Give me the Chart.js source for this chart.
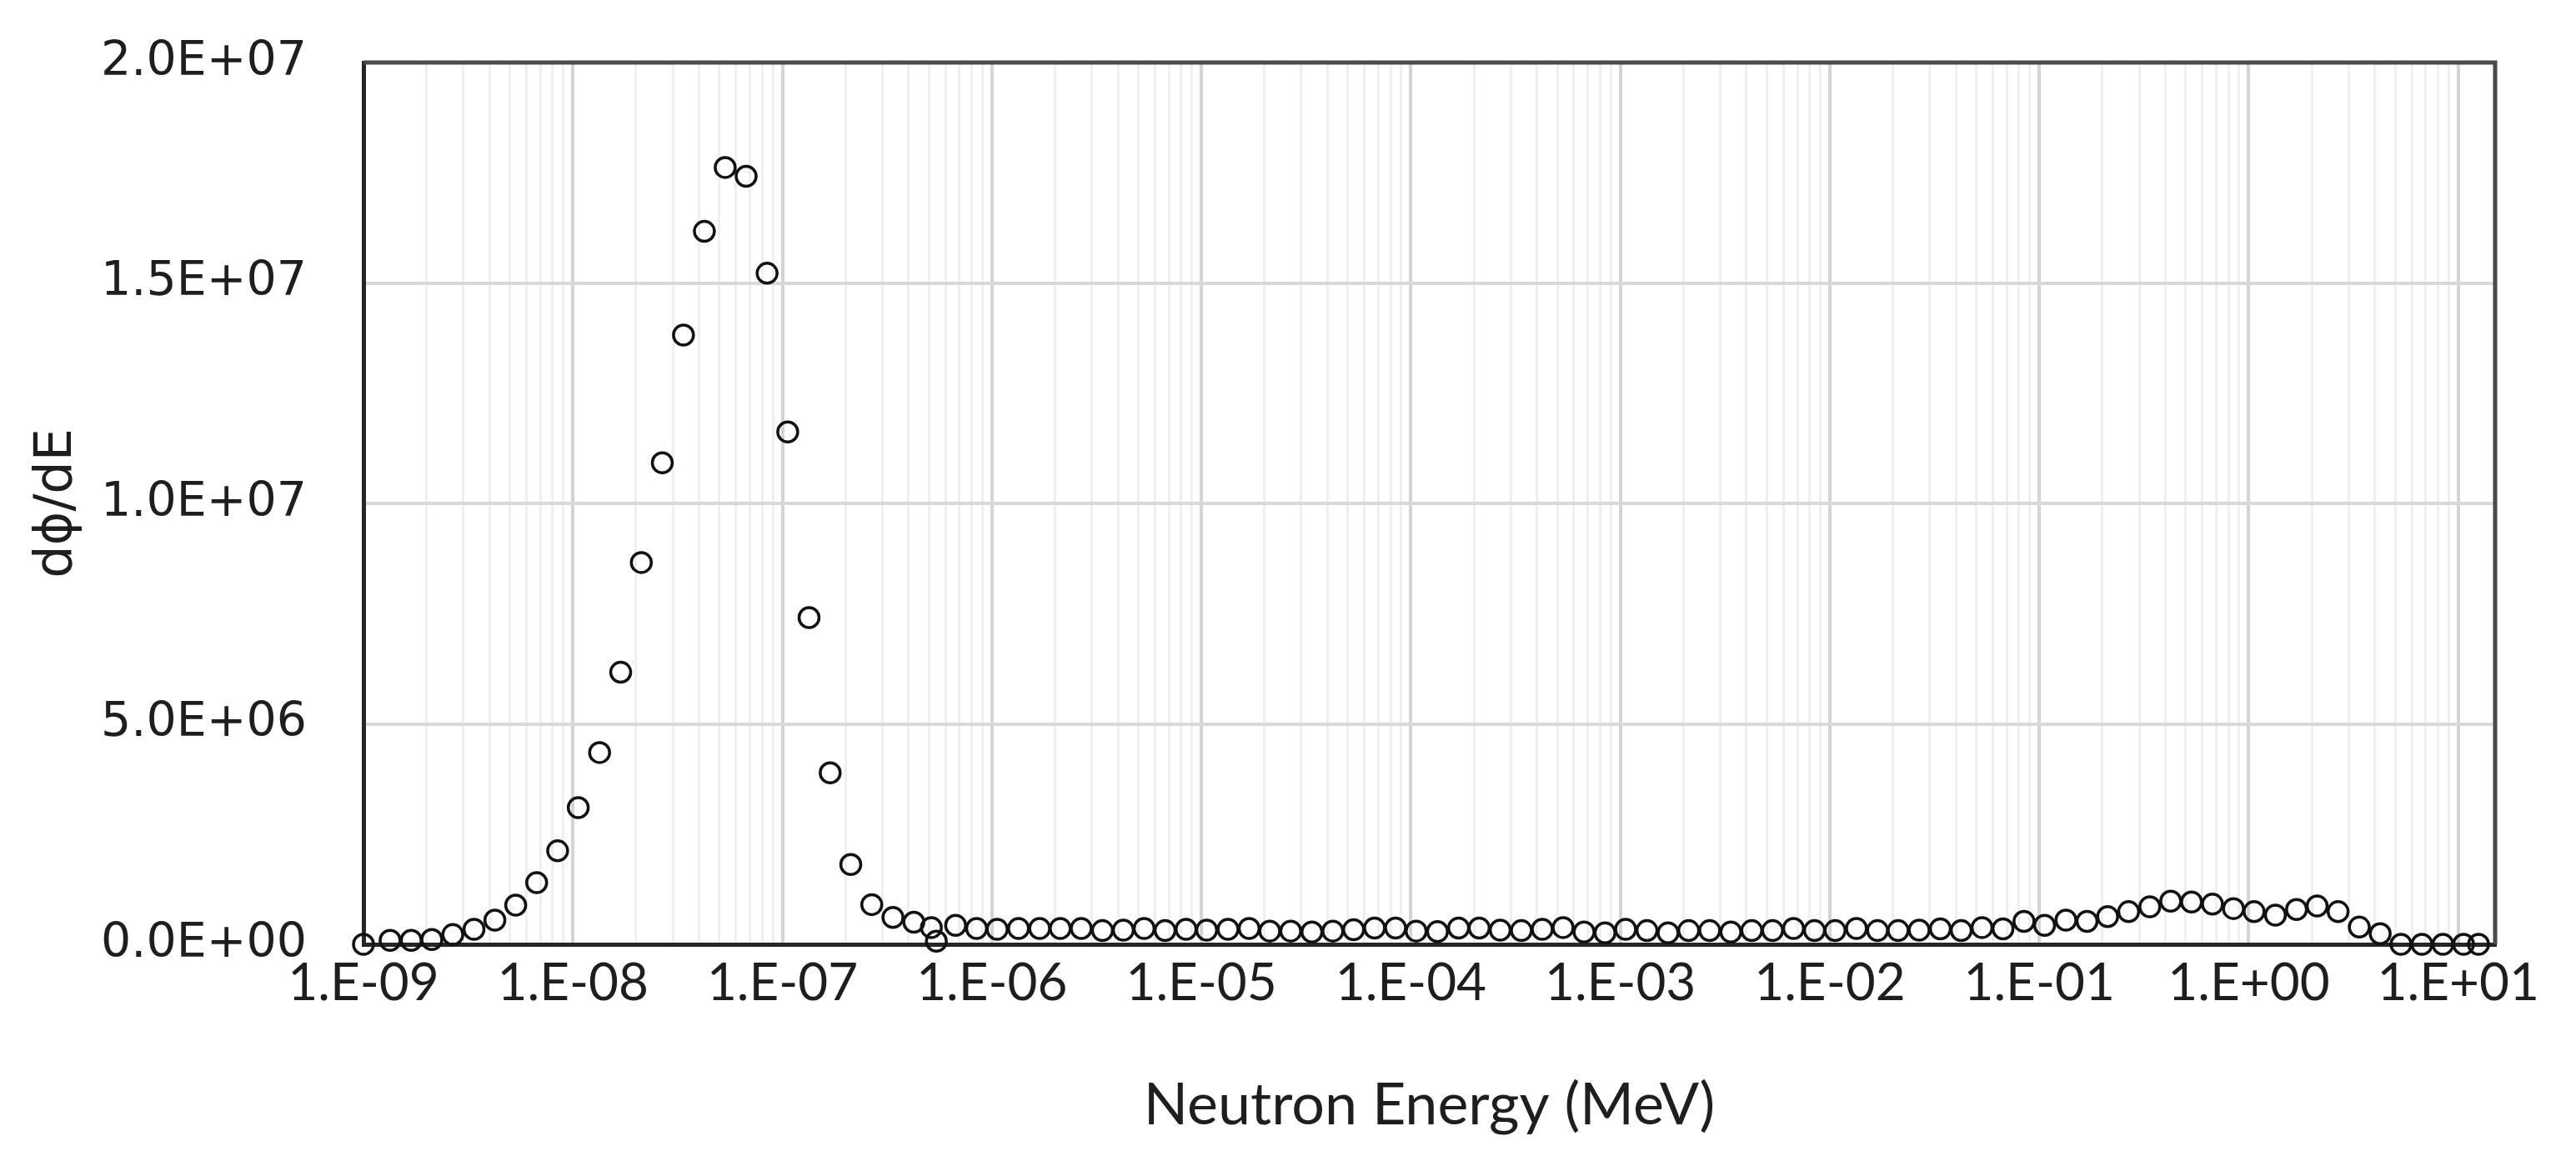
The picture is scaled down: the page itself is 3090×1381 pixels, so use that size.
<!DOCTYPE html>
<html>
<head>
<meta charset="utf-8">
<title>Neutron spectrum</title>
<script src="https://cdn.jsdelivr.net/npm/chart.js@4.4.1/dist/chart.umd.min.js"></script>
<style>
  html, body { margin: 0; padding: 0; background: #ffffff; }
  #spectrum { display: block; }
</style>
</head>
<body>
<canvas id="spectrum" width="3090" height="1381"></canvas>
<script>
// neutron energy of each point, MeV
const energies = [
  1.00e-9,
  1.34e-9, 1.69e-9, 2.12e-9, 2.67e-9, 3.37e-9, 4.24e-9, 5.33e-9, 6.71e-9, 8.45e-9,
  1.06e-8, 1.34e-8, 1.69e-8, 2.12e-8, 2.67e-8, 3.37e-8, 4.24e-8, 5.33e-8, 6.71e-8, 8.45e-8,
  1.06e-7, 1.34e-7, 1.69e-7, 2.12e-7, 2.67e-7, 3.37e-7, 4.24e-7, 5.14e-7, 5.43e-7, 6.71e-7, 8.45e-7,
  1.06e-6, 1.34e-6, 1.69e-6, 2.12e-6, 2.67e-6, 3.37e-6, 4.24e-6, 5.33e-6, 6.71e-6, 8.45e-6,
  1.06e-5, 1.34e-5, 1.69e-5, 2.12e-5, 2.67e-5, 3.37e-5, 4.24e-5, 5.33e-5, 6.71e-5, 8.45e-5,
  1.06e-4, 1.34e-4, 1.69e-4, 2.12e-4, 2.67e-4, 3.37e-4, 4.24e-4, 5.33e-4, 6.71e-4, 8.45e-4,
  1.06e-3, 1.34e-3, 1.69e-3, 2.12e-3, 2.67e-3, 3.37e-3, 4.24e-3, 5.33e-3, 6.71e-3, 8.45e-3,
  1.06e-2, 1.34e-2, 1.69e-2, 2.12e-2, 2.67e-2, 3.37e-2, 4.24e-2, 5.33e-2, 6.71e-2, 8.45e-2,
  1.06e-1, 1.34e-1, 1.69e-1, 2.12e-1, 2.67e-1, 3.37e-1, 4.24e-1, 5.33e-1, 6.71e-1, 8.45e-1,
  1.06, 1.34, 1.69, 2.12, 2.67, 3.37, 4.24, 5.33, 6.71, 8.45,
  10.6, 12.5
];

// dphi/dE in units of 1E+06
const fluxMillions = [
  0.00,
  0.09, 0.09, 0.11, 0.22, 0.34, 0.55, 0.89, 1.40, 2.12,
  3.10, 4.35, 6.17, 8.66, 10.92, 13.82, 16.17, 17.62, 17.42, 15.22,
  11.62, 7.41, 3.89, 1.81, 0.90, 0.61, 0.50, 0.38, 0.07, 0.43, 0.36,
  0.34, 0.36, 0.36, 0.36, 0.36, 0.31, 0.32, 0.36, 0.31, 0.34,
  0.32, 0.34, 0.36, 0.30, 0.30, 0.28, 0.30, 0.33, 0.37, 0.37,
  0.30, 0.29, 0.37, 0.37, 0.32, 0.31, 0.34, 0.38, 0.28, 0.26,
  0.34, 0.31, 0.26, 0.31, 0.31, 0.28, 0.31, 0.31, 0.36, 0.31,
  0.31, 0.36, 0.31, 0.31, 0.32, 0.35, 0.31, 0.38, 0.35, 0.52,
  0.43, 0.55, 0.52, 0.63, 0.74, 0.85, 0.98, 0.96, 0.91, 0.81,
  0.74, 0.66, 0.79, 0.87, 0.74, 0.39, 0.24, 0.00, 0.00, 0.00,
  0.00, 0.00
];

const decadeTicks = [1e-9, 1e-8, 1e-7, 1e-6, 1e-5, 1e-4, 1e-3, 1e-2, 1e-1, 1e0, 1e1];
const xTickLabels = ['1.E-09', '1.E-08', '1.E-07', '1.E-06', '1.E-05', '1.E-04',
                     '1.E-03', '1.E-02', '1.E-01', '1.E+00', '1.E+01'];
const minorSteps = [2, 3, 4, 5, 6, 7, 8, 9];
const xMin = 1e-9;
const xMax = 15;

const yTickValues = [0, 5e6, 1e7, 1.5e7, 2e7];
const yTickLabels = ['0.0E+00', '5.0E+06', '1.0E+07', '1.5E+07', '2.0E+07'];

const points = energies.map((e, i) => ({ x: e, y: fluxMillions[i] * 1e6 }));

// grid lines at every decade plus 2..9 in between
const gridValues = [];
decadeTicks.forEach(d => {
  gridValues.push(d);
  minorSteps.forEach(m => {
    if (d * m < xMax) gridValues.push(d * m);
  });
});

function decadeIndex(v) {
  return decadeTicks.findIndex(d => Math.abs(Math.log10(d) - Math.log10(v)) < 1e-6);
}

const textColor = '#1e1e1e';

// top and right edge of the plot box
const frame = {
  id: 'frame',
  beforeDatasetsDraw(chart) {
    const { ctx, chartArea: a } = chart;
    ctx.save();
    ctx.strokeStyle = '#4a4a4a';
    ctx.lineWidth = 5;
    ctx.beginPath();
    ctx.moveTo(a.left, a.top);
    ctx.lineTo(a.right, a.top);
    ctx.lineTo(a.right, a.bottom);
    ctx.stroke();
    ctx.restore();
  }
};

new Chart(document.getElementById('spectrum'), {
  type: 'scatter',
  data: {
    datasets: [{
      label: 'dϕ/dE',
      data: points,
      pointStyle: 'circle',
      pointRadius: 12,
      pointBorderWidth: 3.5,
      pointBorderColor: '#111111',
      pointBackgroundColor: 'rgba(0,0,0,0)',
      showLine: false,
      clip: false
    }]
  },
  options: {
    responsive: false,
    devicePixelRatio: 1,
    animation: false,
    layout: {
      padding: { top: 75, right: 97, bottom: 0, left: 0 }
    },
    plugins: {
      legend: { display: false },
      tooltip: { enabled: false }
    },
    scales: {
      x: {
        type: 'logarithmic',
        min: xMin,
        max: xMax,
        afterBuildTicks: scale => {
          scale.ticks = gridValues.map(v => ({ value: v }));
        },
        afterFit: scale => { scale.height = 248; },
        ticks: {
          autoSkip: false,
          maxRotation: 0,
          minRotation: 0,
          padding: 10,
          color: textColor,
          font: { family: 'Lato', size: 62 },
          callback: value => {
            const i = decadeIndex(value);
            return i >= 0 ? xTickLabels[i] : '';
          }
        },
        grid: {
          drawTicks: false,
          color: ctx => (ctx.tick && decadeIndex(ctx.tick.value) >= 0) ? '#d4d4d4' : '#efefef',
          lineWidth: ctx => (ctx.tick && decadeIndex(ctx.tick.value) >= 0) ? 4 : 3
        },
        border: { display: true, color: '#262626', width: 5 },
        title: {
          display: true,
          text: 'Neutron Energy (MeV)',
          color: textColor,
          font: { family: 'Lato', size: 70 },
          padding: { top: 0, bottom: 13 }
        }
      },
      y: {
        type: 'linear',
        min: 0,
        max: 2e7,
        afterBuildTicks: scale => {
          scale.ticks = yTickValues.map(v => ({ value: v }));
        },
        afterFit: scale => {
          scale.width = 436;
          scale.paddingTop = 0;
          scale.paddingBottom = 0;
        },
        ticks: {
          padding: 68,
          color: textColor,
          font: { family: 'DejaVu Sans', size: 57 },
          callback: (value, index) => yTickLabels[yTickValues.indexOf(value)]
        },
        grid: {
          drawTicks: false,
          color: '#d9d9d9',
          lineWidth: 4
        },
        border: { display: true, color: '#262626', width: 5 },
        title: {
          display: true,
          text: 'dϕ/dE',
          color: textColor,
          font: { family: 'DejaVu Sans', size: 62 },
          padding: { top: 32, bottom: 0 }
        }
      }
    }
  },
  plugins: [frame]
});
</script>
</body>
</html>
